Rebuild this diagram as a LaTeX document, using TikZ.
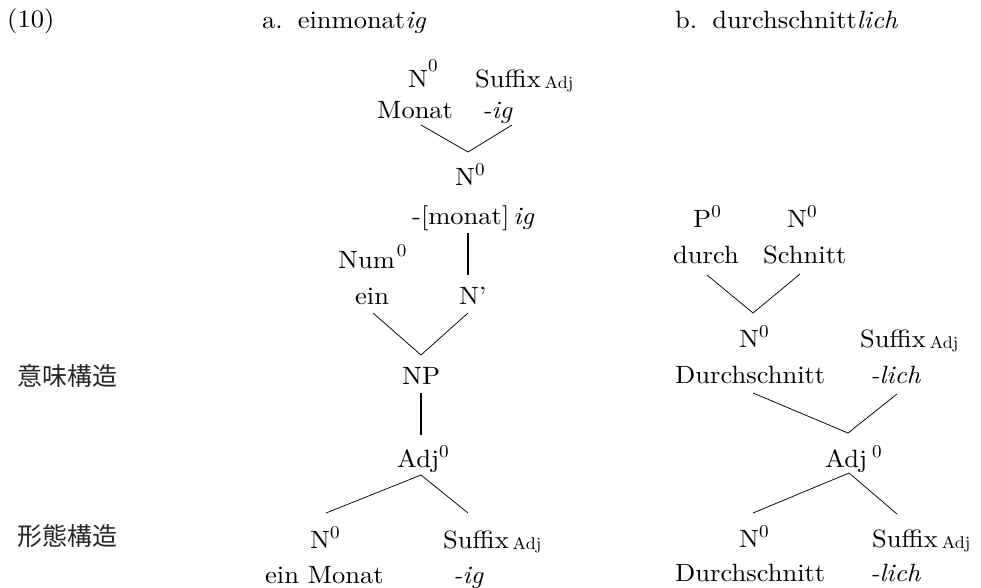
\documentclass[tikz,border=0pt]{standalone}
\usepackage{fontspec}
\usepackage{graphicx}
\setmainfont{lmroman10-regular}[Extension=.otf, ItalicFont=lmroman10-italic, FakeStretch=1.06]
\newfontfamily\jpfont{Noto Sans CJK JP}
% raised zero for bar levels, small subscript for suffix category
\newcommand\zsup[1][10pt]{\raisebox{#1}{\fontsize{18}{18}\selectfont 0}}
\newcommand\adjsub{\hspace{4pt}\raisebox{-1pt}{\fontsize{17}{17}\selectfont Adj}}
\tikzset{
  lbl/.style={anchor=base west, inner sep=0pt, font=\fontsize{25}{30}\selectfont},
  jlbl/.style={anchor=base west, inner sep=0pt, font=\jpfont\fontsize{25}{30}\selectfont, text=black!85},
  branch/.style={line width=0.75pt},
  stem/.style={line width=1.8pt}
}
\begin{document}
\begin{tikzpicture}[x=1pt, y=-1pt]
\useasboundingbox (0,0) rectangle (981,587);

% headings
\node[lbl] (exno) at (7,27) {(10)};
\node[lbl] (heada) at (262,28) {a.\hspace{0.6em}einmonat\textit{ig}};
\node[lbl] (headb) at (675,28) {b.\hspace{0.6em}durchschnitt\textit{lich}};

% level names
\node[jlbl] (sem) at (17,385) {意味構造};
\node[jlbl] (morph) at (17,545) {形態構造};

% ---- tree a: einmonatig ----
\node[lbl] (aN1) at (408,87) {N\zsup[16pt]};
\node[lbl] (aS1) at (475,87) {Suffix\adjsub};
\node[lbl] (aMonat) at (377,118) {Monat};
\node[lbl] (aIg1) at (482,118) {\textit{-ig}};
\node[lbl] (aN2) at (455,185) {N\zsup};
\node[lbl] (aMonig) at (412,224) {-[monat]\hspace{4pt}\textit{ig}};
\node[lbl] (aNum) at (338,268) {Num\hspace{2pt}\zsup[12pt]};
\node[lbl] (aEin) at (355,304) {ein};
\node[lbl] (aNbar) at (459,304) {N’};
\node[lbl] (aNP) at (402,384) {NP};
\node[lbl] (aAdj) at (397,467) {Adj\zsup};
\node[lbl] (aN3) at (310,548) {N\zsup};
\node[lbl] (aS3) at (443,548) {Suffix\adjsub};
\node[lbl] (aEinMonat) at (265,583) {ein Monat};
\node[lbl] (aIg3) at (453,583) {\textit{-ig}};

\draw[branch] ([shift={(44,7)}]aMonat.base west) -- ([shift={(13,-33)}]aN2.base west)
              -- ([shift={(30,7)}]aIg1.base west);
\draw[stem] ([shift={(56,9)}]aMonig.base west) -- ([shift={(9,-29)}]aNbar.base west);
\draw[branch] ([shift={(18,9)}]aEin.base west) -- ([shift={(19,-29)}]aNP.base west)
              -- ([shift={(9,9)}]aNbar.base west);
\draw[stem] ([shift={(19,9)}]aNP.base west) -- ([shift={(24,-32)}]aAdj.base west);
\draw[branch] ([shift={(16,-35)}]aN3.base west) -- ([shift={(24,8)}]aAdj.base west)
              -- ([shift={(25,-35)}]aS3.base west);

% ---- tree b: durchschnittlich ----
\node[lbl] (bP) at (693,227) {P\zsup};
\node[lbl] (bN1) at (787,227) {N\zsup};
\node[lbl] (bDurch) at (673,263) {durch};
\node[lbl] (bSchnitt) at (763,263) {Schnitt};
\node[lbl] (bN2) at (739,347) {N\zsup};
\node[lbl] (bS2) at (860,347) {Suffix\adjsub};
\node[lbl] (bDs2) at (675,383) {Durchschnitt};
\node[lbl] (bLich2) at (870,383) {\textit{-lich}};
\node[lbl] (bAdj) at (825,467) {Adj\hspace{5pt}\zsup};
\node[lbl] (bN3) at (739,547) {N\zsup};
\node[lbl] (bS3) at (872,547) {Suffix\adjsub};
\node[lbl] (bDs3) at (675,581) {Durchschnitt};
\node[lbl] (bLich3) at (870,581) {\textit{-lich}};

\draw[branch] ([shift={(34,12)}]bDurch.base west) -- ([shift={(14,-34)}]bN2.base west)
              -- ([shift={(37,11)}]bSchnitt.base west);
\draw[branch] ([shift={(78,10)}]bDs2.base west) -- ([shift={(23,-34)}]bAdj.base west)
              -- ([shift={(27,11)}]bLich2.base west);
\draw[branch] ([shift={(14,-34)}]bN3.base west) -- ([shift={(24,6)}]bAdj.base west)
              -- ([shift={(25,-33)}]bS3.base west);
\end{tikzpicture}
\end{document}
